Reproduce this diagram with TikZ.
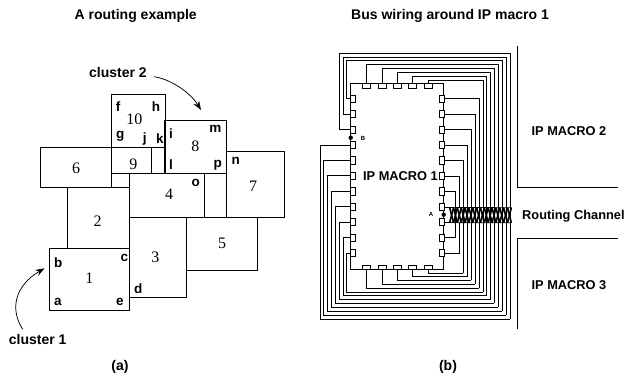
\documentclass[tikz,border=0pt]{standalone}
\usepackage{fontspec}
\setmainfont{Liberation Sans}
\newfontfamily\numfont{Liberation Serif}
\usetikzlibrary{arrows.meta}
\tikzset{
  wire/.style={line width=0.75pt,line join=miter},
  box/.style={line width=0.75pt},
  heavybox/.style={line width=1.1pt},
  pin/.style={draw,line width=0.7pt,fill=white,inner sep=0pt,minimum width=#1},
  num/.style={font=\numfont\fontsize{16}{16}\selectfont,inner sep=0pt},
  let/.style={font=\bfseries\fontsize{13.5}{13}\selectfont,inner sep=0pt},
  lab/.style={font=\bfseries\fontsize{12.8}{13}\selectfont,inner sep=0pt},
  ttl/.style={font=\bfseries\fontsize{14}{14}\selectfont,inner sep=0pt},
  tiny/.style={font=\bfseries\fontsize{6}{6}\selectfont,inner sep=0pt},
  curvedarrow/.style={line width=0.75pt,-{Stealth[length=9pt,width=6.5pt]}},
  dot/.style={circle,fill=black,inner sep=0pt,minimum size=4.4pt},
}
\begin{document}
\begin{tikzpicture}[x=1pt,y=-1pt]
\useasboundingbox (0,0) rectangle (624,375);
% titles
\node[ttl] (t1) at (135.7,16) {A routing example};
\node[ttl] (t2) at (450,16) {Bus wiring around IP macro 1};
\node[ttl] (capa) at (120,367) {(a)};
\node[ttl] (capb) at (448,367) {(b)};
% (a) blocks
\draw[box] (111.5,147.3) rectangle (165,173.7);
\draw[box] (151.7,147.3) -- (151.7,173.7);
\draw[box] (40.5,147.3) rectangle (111.5,187);
\draw[box] (111.5,94.3) rectangle (165,147.3);
\draw[box] (67.3,187) rectangle (129.5,248.3);
\draw[box] (129.5,173.7) rectangle (204.5,217.3);
\draw[box] (204.5,173.7) rectangle (226.7,217.3);
\draw[box] (226.7,151.7) rectangle (284.5,217.3);
\draw[box] (129.5,217.3) rectangle (186.7,297.3);
\draw[box] (186.7,217.3) rectangle (257.7,270.7);
\draw[heavybox] (165,120.7) rectangle (226.7,173.7);
\draw[heavybox] (49.7,248.3) rectangle (129.5,310.3);
\foreach \t/\x/\y/\n in {10/134.3/119.3/n10,8/195.3/146.3/n8,9/133.3/164.7/n9,6/76/168.7/n6,7/253/186/n7,4/169/194.7/n4,2/97.7/221.3/n2,5/222/243/n5,3/155.3/257/n3,1/89.3/278.3/n1}
  \node[num] (\n) at (\x,\y) {\t};
\foreach \t/\x/\y in {f/118/107,h/156/107,g/120.3/136,j/144.7/139.3,k/160/138.3,i/171/133.7,m/215.3/129.3,l/171/165,p/217.7/165.7,n/235.7/160.7,o/195.7/182.7,b/58.3/262.7,c/124.3/257.7,d/138.3/288.3,a/58/302,e/120/302}
  \node[let] (l\t) at (\x,\y) {\t};
\node[ttl] (c2) at (118,72) {cluster 2};
\node[ttl] (c1) at (37.7,339.5) {cluster 1};
\coordinate (c2s) at (154,76.7);
\coordinate (c2e) at (201,110);
\coordinate (c1s) at (22.7,329.3);
\coordinate (c1e) at (44.5,268.3);
\draw[curvedarrow] (c2s) .. controls (170,79) and (190,92) .. (c2e);
\draw[curvedarrow] (c1s) .. controls (9,308) and (16,285) .. (c1e);
% (b) external macros
\draw[box] (517,45.7) -- (517,187.7) -- (617.7,187.7);
\draw[box] (517,329) -- (517,238.3) -- (617.7,238.3);
% left pins wired over the top
\foreach \k/\xa/\ya/\xb/\yb in {0/346.7/60.7/502.3/311.3,1/343/57/506/315.3,2/339.3/53.3/510/319.3}{
  \pgfmathsetmacro\py{98.7+\k*15.43}
  \draw[wire] (351,\py) -- (\xa,\py) -- (\xa,\ya) -- (\xb,\ya) -- (\xb,\yb);
}
% left pins wired under the bottom
\foreach \k/\xa/\ya/\xb in {3/320/319.3/510,4/323.7/315.3/506,5/327.5/311.3/502.3,6/331.3/307.3/498.3,7/335.3/303.3/494.3,8/339.3/299.3/490.7,9/343/295.7/486.7,10/346.7/292/483}{
  \pgfmathsetmacro\py{98.7+\k*15.43}
  \draw[wire] (351,\py) -- (\xa,\py) -- (\xa,\ya) -- (\xb,\ya);
}
% top pins
\foreach \x/\ya/\xb/\yb in {366.7/64.7/498.3/307.3,382/68.5/494.3/303.3,397.3/72.3/490.7/299.3,412.7/76/486.7/295.7,428.3/80/483/292}
  \draw[wire] (\x,86) -- (\x,\ya) -- (\xb,\ya) -- (\xb,\yb);
% bottom pins
\foreach \x/\ya/\xb in {366.7/288/479,382/284.3/475,397.3/280.3/471,412.7/276.7/467.3,428.3/273/463.3}
  \draw[wire] (\x,267) -- (\x,\ya) -- (\xb,\ya);
% right pins
\foreach \k/\xb/\yb in {0/479/288,1/475/284.3,2/471/280.3,3/467.3/276.7,4/463.3/273}{
  \pgfmathsetmacro\py{98.7+\k*15.43}
  \draw[wire] (443,\py) -- (\xb,\py) -- (\xb,\yb);
}
\draw[wire] (443,176) -- (459.3,176) -- (459.3,207.7);
\draw[wire] (443,253) -- (459.3,253) -- (459.3,222.7);
\draw[wire] (443,191.7) -- (455.7,191.7) -- (455.7,237.7) -- (443,237.7);
\draw[wire] (443,207.4) -- (511.7,207.7);
\draw[wire] (443,222.6) -- (511.7,222.7);
% routing channel crossings
\foreach \i in {0,...,15}{
  \pgfmathsetmacro\xl{449.67+\i*3.855}
  \pgfmathsetmacro\xr{\xl+3.855}
  \draw[line width=1.6pt] (\xl,207.7) -- (\xr,222.7);
  \draw[line width=1.6pt] (\xr,207.7) -- (\xl,222.7);
}
% macro 1
\draw[box] (350.7,83.7) rectangle (443.7,269.3);
\foreach \k in {0,...,10}{
  \pgfmathsetmacro\py{98.7+\k*15.43}
  \node[pin=4.4pt,minimum height=7.2pt] (lp\k) at (353,\py) {};
  \node[pin=4.4pt,minimum height=7.2pt] (rp\k) at (441.7,\py) {};
}
\foreach \x [count=\c] in {366.7,382,397.3,412.7,428.3}{
  \node[pin=8pt,minimum height=4.4pt] (tp\c) at (\x,86) {};
  \node[pin=8pt,minimum height=4.4pt] (bp\c) at (\x,267.2) {};
}
\node[lab] (m1) at (400.5,176) {IP MACRO 1};
\node[lab] (m2) at (569,130.7) {IP MACRO 2};
\node[lab] (m3) at (569,285) {IP MACRO 3};
\node[lab,anchor=west] (rc) at (522,216.5) {Routing Channel};
\node[dot] (dA) at (443.7,214.7) {};
\node[dot] (dB) at (350.7,137.7) {};
\node[tiny] (lA) at (431,214.5) {A};
\node[tiny] (lB) at (363,138.7) {B};
\end{tikzpicture}
\end{document}
